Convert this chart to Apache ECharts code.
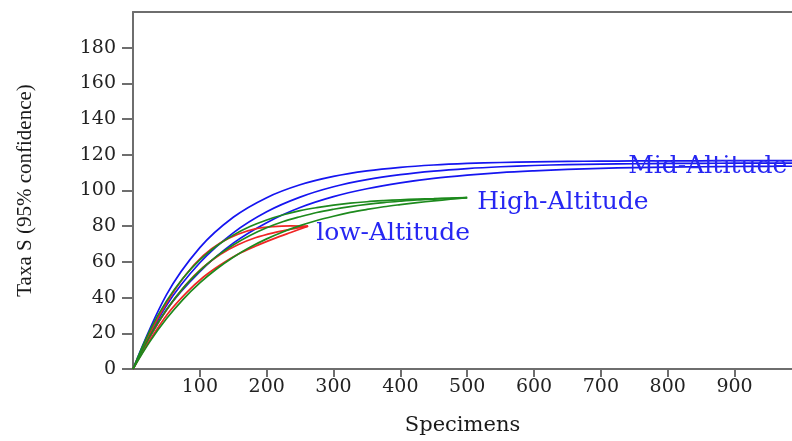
<!DOCTYPE html>
<html>
<head>
<meta charset="utf-8">
<script src="https://cdn.jsdelivr.net/npm/echarts@6/dist/echarts.min.js"></script>
<style>
html,body{margin:0;padding:0;background:#fff;}
#chart{width:792px;height:441px;}
</style>
</head>
<body>
<div id="chart"></div>
<script>
// Specimen counts (x) for each altitude group
const nMid  = [0, 50, 100, 150, 200, 250, 300, 350, 400, 450, 500, 550, 600, 650, 700, 750, 800, 850, 900, 950, 1000];
const nHigh = [0, 25, 50, 75, 100, 125, 150, 175, 200, 225, 250, 275, 300, 325, 350, 375, 400, 425, 450, 475, 500];
const nLow  = [0, 26, 52, 79, 105, 131, 157, 183, 210, 236, 262];

// Mid-Altitude: upper 95%, mean, lower 95%
const midUpper = [0, 41.5, 68, 85, 96, 103.2, 107.9, 111, 113, 114.3, 115.15, 115.7, 116.05, 116.3, 116.45, 116.55, 116.6, 116.65, 116.7, 116.7, 116.7];
const midMean  = [0, 35.5, 59.5, 76.3, 88.1, 96.3, 102.1, 106.1, 108.9, 110.9, 112.3, 113.3, 114, 114.5, 114.8, 115, 115.15, 115.25, 115.3, 115.35, 115.4];
const midLower = [0, 33, 54.5, 70.5, 82, 90.5, 96.6, 101, 104.3, 106.8, 108.6, 110, 111, 111.8, 112.4, 112.8, 113.1, 113.3, 113.45, 113.55, 113.6];

// High-Altitude
const highUpper = [0, 21.4, 38, 51, 61.1, 68.9, 75, 79.8, 83.5, 86.4, 88.7, 90.4, 91.8, 92.9, 93.7, 94.3, 94.8, 95.2, 95.5, 95.8, 96];
const highMean  = [0, 18.3, 33.2, 45.3, 55.1, 63.1, 69.5, 74.8, 79.1, 82.6, 85.3, 87.7, 89.5, 91, 92.2, 93.2, 94, 94.7, 95.2, 95.6, 96];
const highLower = [0, 15.2, 28.1, 39, 48.2, 56, 62.6, 68.2, 72.9, 76.9, 80.3, 83.2, 85.6, 87.7, 89.4, 90.9, 92.1, 93.2, 94.2, 95.1, 96];

// Low-Altitude
const lowUpper = [0, 20.7, 38.1, 52.8, 63.5, 70.7, 75.5, 78.5, 79.8, 80.2, 80];
const lowMean  = [0, 18.6, 34, 47.1, 57, 64.3, 69.6, 73.5, 76.3, 78.3, 80];
const lowLower = [0, 16.6, 31, 42.4, 51.4, 58.4, 64.3, 68.8, 72.9, 76.5, 80];

// Tick labels
const xTicks = [100, 200, 300, 400, 500, 600, 700, 800, 900];
const yTicks = [0, 20, 40, 60, 80, 100, 120, 140, 160, 180];

// Group labels: text, anchor specimen, anchor value
const groupLabels = [
  {name: 'Mid-Altitude', x: 741, y: 113.4},
  {name: 'High-Altitude', x: 515, y: 93.0},
  {name: 'low-Altitude', x: 274, y: 75.8}
];

const BLUE = '#1515f0', GREEN = '#1d8a1d', RED = '#f02525', LABEL = '#2626f2';
const AXIS = '#6e6e6e';
const SERIF = '"DejaVu Serif", "Liberation Serif", serif';

function pairs(xs, ys) { return xs.map((x, i) => [x, ys[i]]); }

function lineSeries(xs, ys, color, extra) {
  return Object.assign({
    type: 'line',
    data: pairs(xs, ys),
    smooth: 0.35,
    symbol: 'none',
    lineStyle: {color: color, width: 1.7},
    silent: true,
    animation: false,
    z: 3
  }, extra || {});
}

function labelMark(lbl) {
  return {
    symbol: 'circle',
    symbolSize: 0,
    silent: true,
    data: [{coord: [lbl.x, lbl.y]}],
    label: {
      show: true,
      position: 'right',
      distance: 0,
      formatter: lbl.name,
      color: LABEL,
      fontFamily: SERIF,
      fontSize: 25
    }
  };
}

const series = [
  lineSeries(nMid, midUpper, BLUE),
  lineSeries(nMid, midMean, BLUE, {markPoint: labelMark(groupLabels[0])}),
  lineSeries(nMid, midLower, BLUE),
  lineSeries(nLow, lowUpper, RED),
  lineSeries(nLow, lowMean, RED, {markPoint: labelMark(groupLabels[2])}),
  lineSeries(nLow, lowLower, RED),
  lineSeries(nHigh, highUpper, GREEN),
  lineSeries(nHigh, highMean, GREEN, {markPoint: labelMark(groupLabels[1])}),
  lineSeries(nHigh, highLower, GREEN)
];

const chart = echarts.init(document.getElementById('chart'), null, {renderer: 'canvas'});
chart.setOption({
  backgroundColor: '#ffffff',
  animation: false,
  grid: {left: 133, right: 0, top: 12, bottom: 70, containLabel: false},
  xAxis: [{
    type: 'value',
    min: 0,
    max: 986,
    position: 'bottom',
    name: 'Specimens',
    nameLocation: 'middle',
    nameGap: 46,
    nameTextStyle: {fontFamily: SERIF, fontSize: 21, color: '#1a1a1a'},
    axisLine: {show: true, onZero: false, lineStyle: {color: AXIS, width: 2}},
    axisTick: {show: true, inside: false, length: 8, customValues: xTicks, lineStyle: {color: AXIS, width: 2}},
    axisLabel: {show: true, margin: 9, customValues: xTicks, fontFamily: SERIF, fontSize: 19, color: '#222'},
    splitLine: {show: false}
  }, {
    type: 'value',
    min: 0,
    max: 986,
    position: 'top',
    axisLine: {show: true, onZero: false, lineStyle: {color: AXIS, width: 2}},
    axisTick: {show: false},
    axisLabel: {show: false},
    splitLine: {show: false}
  }],
  yAxis: {
    type: 'value',
    min: 0,
    max: 200,
    name: 'Taxa S (95% confidence)',
    nameLocation: 'middle',
    nameGap: 97,
    nameRotate: 90,
    nameTextStyle: {fontFamily: '"Liberation Serif", serif', fontSize: 21, color: '#1a1a1a'},
    axisLine: {show: true, onZero: false, lineStyle: {color: AXIS, width: 2}},
    axisTick: {show: true, length: 11, customValues: yTicks, lineStyle: {color: AXIS, width: 2}},
    axisLabel: {show: true, margin: 17, customValues: yTicks, fontFamily: SERIF, fontSize: 19, color: '#222'},
    splitLine: {show: false}
  },
  series: series
});
</script>
</body>
</html>
